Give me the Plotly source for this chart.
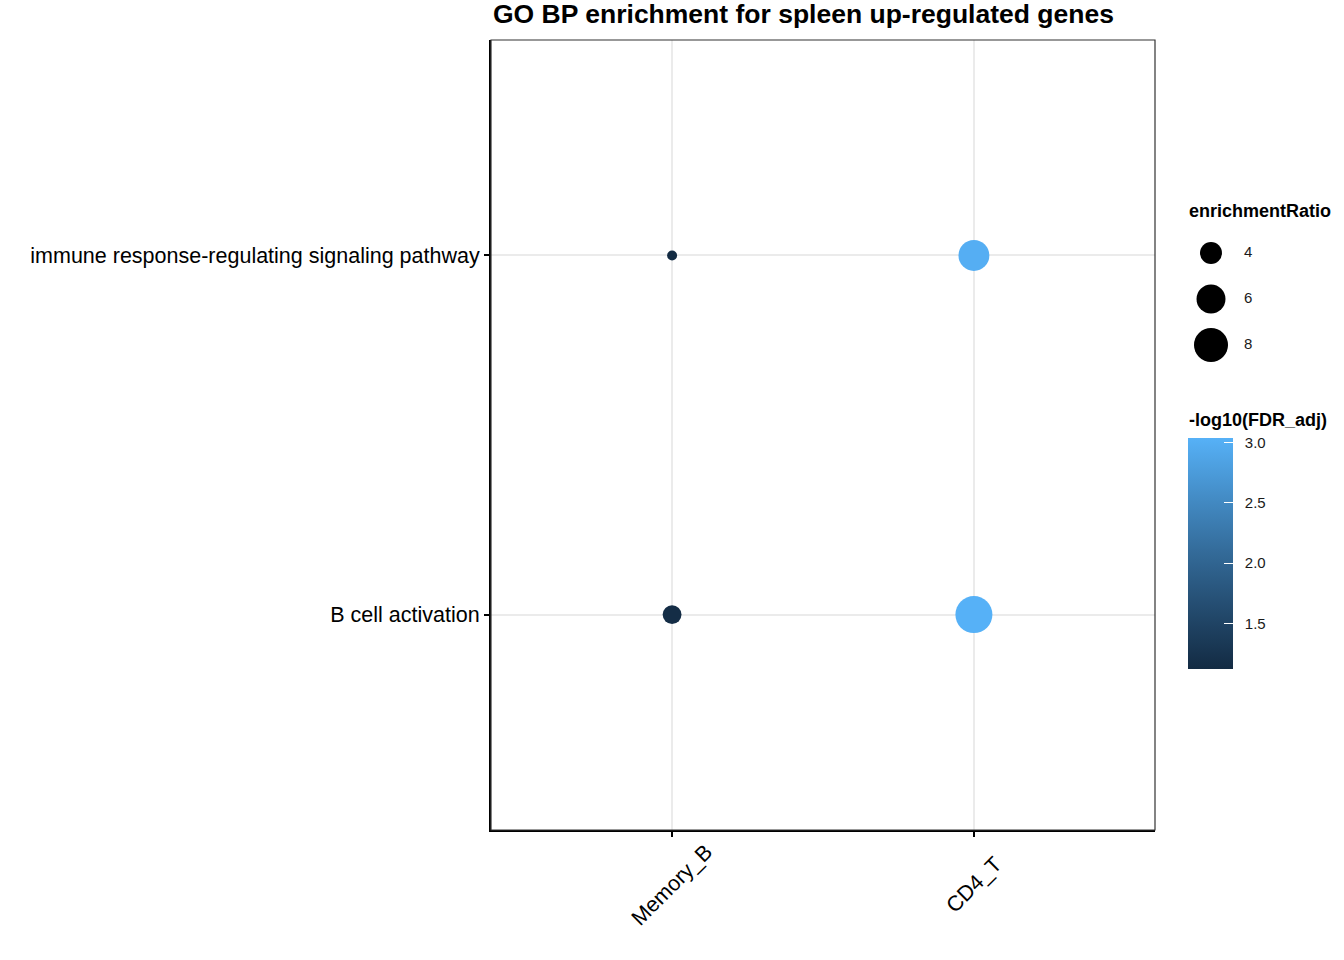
import numpy as np
import plotly.graph_objects as go

# ---------------- data ----------------
terms = ["B cell activation", "immune response-regulating signaling pathway"]
groups = ["Memory_B", "CD4_T"]
memory_b_ratio = [3.4, 2.68]
memory_b_logfdr = [1.15, 1.12]
cd4_t_ratio = [9.4, 6.7]
cd4_t_logfdr = [3.04, 3.0]
size_legend_values = [4, 6, 8]
colorbar_ticks = [1.5, 2.0, 2.5, 3.0]
colorbar_ticktext = ["1.5", "2.0", "2.5", "3.0"]

title = "GO BP enrichment for spleen up-regulated genes"

W, H = 1344, 960
FONT = "Liberation Sans, Arial, Helvetica, sans-serif"

all_ratio = np.array(memory_b_ratio + cd4_t_ratio, dtype=float)
all_fdr = np.array(memory_b_logfdr + cd4_t_logfdr, dtype=float)
rmin, rmax = all_ratio.min(), all_ratio.max()
cmin, cmax = all_fdr.min(), all_fdr.max()


def area_size(v):
    # ggplot2 scale_size (area) style: size = 1 + 5*sqrt(rescaled), -> pixel diameter
    t = np.clip((np.asarray(v, dtype=float) - rmin) / (rmax - rmin), 0, 1)
    s = 1 + 5 * np.sqrt(t)
    return 5.4 * s + 4.6


colorscale = [
    [0.0, "#132B43"],
    [0.25, "#234A6D"],
    [0.5, "#336A98"],
    [0.75, "#448DC7"],
    [1.0, "#56B1F7"],
]


def px_x(p):
    return p / W


def px_y(p):
    return 1 - p / H


panel = dict(x0=491, x1=1155, y0=40, y1=830)
NBSP = "\u00a0"

fig = go.Figure()

x_vals = [groups[0]] * len(terms) + [groups[1]] * len(terms)
y_vals = terms + terms
fig.add_trace(
    go.Scatter(
        x=x_vals,
        y=y_vals,
        mode="markers",
        marker=dict(
            size=area_size(all_ratio),
            sizemode="diameter",
            color=all_fdr,
            colorscale=colorscale,
            cmin=cmin,
            cmax=cmax,
            opacity=1,
            line=dict(width=0),
            colorbar=dict(
                x=px_x(1188),
                xanchor="left",
                y=px_y(553.5),
                yanchor="middle",
                thickness=45,
                thicknessmode="pixels",
                len=231,
                lenmode="pixels",
                outlinewidth=0,
                xpad=0,
                ypad=0,
                tickvals=colorbar_ticks,
                ticktext=[NBSP * 2 + t for t in colorbar_ticktext],
                ticks="inside",
                ticklen=9,
                tickwidth=1,
                tickcolor="white",
                tickfont=dict(family=FONT, size=15, color="#1a1a1a"),
                title=dict(text=""),
            ),
        ),
        showlegend=False,
        hoverinfo="skip",
    )
)

# size legend drawn on a small secondary axis
fig.add_trace(
    go.Scatter(
        x=[0.2625] * len(size_legend_values),
        y=size_legend_values,
        xaxis="x2",
        yaxis="y2",
        mode="markers",
        marker=dict(
            size=area_size(size_legend_values),
            sizemode="diameter",
            color="black",
            opacity=1,
            line=dict(width=0),
        ),
        showlegend=False,
        hoverinfo="skip",
    )
)
fig.add_trace(
    go.Scatter(
        x=[0.675] * len(size_legend_values),
        y=size_legend_values,
        xaxis="x2",
        yaxis="y2",
        mode="text",
        text=[str(v) for v in size_legend_values],
        textposition="middle right",
        textfont=dict(family=FONT, size=15, color="#1a1a1a"),
        showlegend=False,
        hoverinfo="skip",
    )
)

annotations = [
    dict(
        text="<b>" + title + "</b>",
        x=px_x(491),
        y=px_y(14),
        xref="paper",
        yref="paper",
        xanchor="left",
        yanchor="middle",
        showarrow=False,
        font=dict(family=FONT, size=26.5, color="black"),
    ),
    dict(
        text="<b>enrichmentRatio</b>",
        x=px_x(1187),
        y=px_y(211),
        xref="paper",
        yref="paper",
        xanchor="left",
        yanchor="middle",
        showarrow=False,
        font=dict(family=FONT, size=18, color="black"),
    ),
    dict(
        text="<b>-log10(FDR_adj)</b>",
        x=px_x(1187),
        y=px_y(420),
        xref="paper",
        yref="paper",
        xanchor="left",
        yanchor="middle",
        showarrow=False,
        font=dict(family=FONT, size=18, color="black"),
    ),
]
# rotated x tick labels centred under each tick (ggplot angle=45 style)
for g in groups:
    annotations.append(
        dict(
            text=g,
            x=g,
            y=px_y(885),
            xref="x",
            yref="paper",
            xanchor="center",
            yanchor="middle",
            textangle=-45,
            showarrow=False,
            font=dict(family=FONT, size=21.5, color="black"),
        )
    )

fig.update_layout(
    width=W,
    height=H,
    margin=dict(l=0, r=0, t=0, b=0),
    paper_bgcolor="white",
    plot_bgcolor="white",
    font=dict(family=FONT, color="black"),
    xaxis=dict(
        domain=[px_x(panel["x0"]), px_x(panel["x1"])],
        type="category",
        categoryorder="array",
        categoryarray=groups,
        range=[-0.6, 1.6],
        showgrid=True,
        gridcolor="#EBEBEB",
        gridwidth=1.5,
        showline=True,
        linecolor="black",
        linewidth=2,
        ticks="outside",
        ticklen=5,
        tickwidth=1.5,
        tickcolor="black",
        showticklabels=False,
        zeroline=False,
        fixedrange=True,
    ),
    yaxis=dict(
        domain=[px_y(panel["y1"]), px_y(panel["y0"])],
        type="category",
        categoryorder="array",
        categoryarray=terms,
        range=[-0.6, 1.6],
        showgrid=True,
        gridcolor="#EBEBEB",
        gridwidth=1.5,
        showline=True,
        linecolor="black",
        linewidth=2,
        ticks="outside",
        ticklen=5,
        tickwidth=1.5,
        tickcolor="black",
        tickfont=dict(family=FONT, size=21.5, color="black"),
        ticklabelstandoff=0,
        zeroline=False,
        fixedrange=True,
    ),
    xaxis2=dict(
        domain=[px_x(1190), px_x(1270)],
        range=[0, 1],
        anchor="y2",
        visible=False,
        fixedrange=True,
    ),
    yaxis2=dict(
        domain=[px_y(368), px_y(230)],
        range=[9, 3],
        anchor="x2",
        visible=False,
        fixedrange=True,
    ),
    shapes=[
        dict(
            type="rect",
            xref="paper",
            yref="paper",
            x0=px_x(panel["x0"]),
            x1=px_x(panel["x1"]),
            y0=px_y(panel["y1"]),
            y1=px_y(panel["y0"]),
            line=dict(color="#333333", width=1.2),
            fillcolor="rgba(0,0,0,0)",
            layer="above",
        )
    ],
    annotations=annotations,
)

fig.write_html(
    "out.html",
    config={"displayModeBar": False},
    post_script="document.body.style.margin='0';document.body.style.padding='0';",
)
